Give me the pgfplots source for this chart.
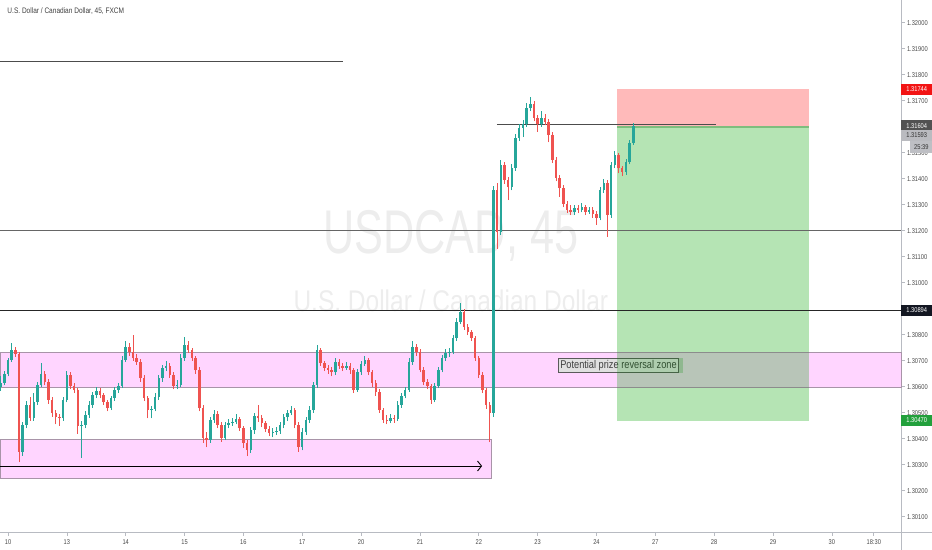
\documentclass[border=0pt]{standalone}
\usepackage{pgfplots}
\pgfplotsset{compat=1.18}
\usepackage{pgfplotstable}
\usepackage{fontspec}
\setmainfont{Liberation Sans}[FakeStretch=0.82]
\newfontfamily\wmfont{Liberation Sans}[FakeStretch=0.7]
\usetikzlibrary{arrows.meta}

\definecolor{upc}{HTML}{26A69A}
\definecolor{dnc}{HTML}{EF5350}
\definecolor{axisg}{HTML}{B8BBC2}
\definecolor{lblc}{HTML}{4A4A4A}
\definecolor{wmc}{HTML}{EDEDED}
\definecolor{pinkz}{RGB}{255,213,255}
\definecolor{pinkb}{RGB}{168,148,168}
\definecolor{greenz}{RGB}{181,228,180}
\definecolor{overz}{RGB}{184,197,184}
\definecolor{redz}{RGB}{255,186,186}
\definecolor{boxf}{RGB}{224,224,224}
\definecolor{boxb}{RGB}{90,90,90}

% 45 min candles, i = candle index (16 per trading day)
\pgfplotstableread{
i o h l c
0 1.30600 1.30640 1.30585 1.30614
1 1.30614 1.30660 1.30605 1.30649
2 1.30649 1.30712 1.30640 1.30703
3 1.30703 1.30768 1.30695 1.30741
4 1.30741 1.30752 1.30715 1.30726
5 1.30726 1.30735 1.30310 1.30349
6 1.30349 1.30465 1.30335 1.30453
7 1.30453 1.30545 1.30440 1.30530
8 1.30530 1.30560 1.30470 1.30479
9 1.30479 1.30575 1.30470 1.30541
10 1.30541 1.30620 1.30530 1.30607
11 1.30607 1.30690 1.30600 1.30649
12 1.30649 1.30660 1.30605 1.30618
13 1.30618 1.30628 1.30535 1.30549
14 1.30549 1.30560 1.30485 1.30498
15 1.30498 1.30510 1.30455 1.30483
16 1.30483 1.30495 1.30450 1.30479
17 1.30479 1.30560 1.30470 1.30549
18 1.30549 1.30660 1.30540 1.30645
19 1.30645 1.30655 1.30590 1.30603
20 1.30603 1.30615 1.30575 1.30587
21 1.30587 1.30595 1.30420 1.30449
22 1.30449 1.30470 1.30326 1.30453
23 1.30453 1.30505 1.30440 1.30491
24 1.30491 1.30545 1.30480 1.30530
25 1.30530 1.30580 1.30520 1.30568
26 1.30568 1.30600 1.30555 1.30583
27 1.30583 1.30595 1.30555 1.30568
28 1.30568 1.30575 1.30530 1.30541
29 1.30541 1.30550 1.30505 1.30518
30 1.30518 1.30565 1.30510 1.30556
31 1.30556 1.30600 1.30545 1.30587
32 1.30587 1.30615 1.30575 1.30603
33 1.30603 1.30720 1.30595 1.30703
34 1.30703 1.30775 1.30695 1.30753
35 1.30753 1.30770 1.30720 1.30733
36 1.30733 1.30798 1.30700 1.30710
37 1.30710 1.30725 1.30685 1.30695
38 1.30695 1.30705 1.30620 1.30633
39 1.30633 1.30645 1.30545 1.30556
40 1.30556 1.30565 1.30478 1.30510
41 1.30510 1.30525 1.30478 1.30515
42 1.30515 1.30575 1.30505 1.30560
43 1.30560 1.30645 1.30550 1.30633
44 1.30633 1.30685 1.30620 1.30672
45 1.30672 1.30700 1.30660 1.30680
46 1.30680 1.30690 1.30635 1.30645
47 1.30645 1.30655 1.30590 1.30603
48 1.30603 1.30625 1.30590 1.30607
49 1.30607 1.30725 1.30600 1.30710
50 1.30710 1.30790 1.30700 1.30761
51 1.30761 1.30775 1.30730 1.30741
52 1.30741 1.30750 1.30700 1.30710
53 1.30710 1.30720 1.30650 1.30664
54 1.30664 1.30675 1.30505 1.30518
55 1.30518 1.30530 1.30385 1.30402
56 1.30402 1.30425 1.30368 1.30395
57 1.30395 1.30485 1.30385 1.30472
58 1.30472 1.30510 1.30460 1.30495
59 1.30495 1.30505 1.30440 1.30453
60 1.30453 1.30465 1.30388 1.30402
61 1.30402 1.30465 1.30395 1.30453
62 1.30453 1.30475 1.30440 1.30460
63 1.30460 1.30480 1.30450 1.30464
64 1.30464 1.30495 1.30455 1.30475
65 1.30475 1.30485 1.30430 1.30441
66 1.30441 1.30450 1.30365 1.30383
67 1.30383 1.30395 1.30333 1.30357
68 1.30357 1.30445 1.30345 1.30433
69 1.30433 1.30500 1.30420 1.30487
70 1.30487 1.30530 1.30465 1.30479
71 1.30479 1.30490 1.30445 1.30460
72 1.30460 1.30470 1.30425 1.30437
73 1.30437 1.30450 1.30410 1.30421
74 1.30421 1.30440 1.30405 1.30426
75 1.30426 1.30445 1.30415 1.30429
76 1.30429 1.30465 1.30420 1.30453
77 1.30453 1.30495 1.30440 1.30483
78 1.30483 1.30512 1.30470 1.30498
79 1.30498 1.30525 1.30490 1.30510
80 1.30510 1.30520 1.30440 1.30453
81 1.30453 1.30465 1.30349 1.30368
82 1.30368 1.30440 1.30355 1.30425
83 1.30425 1.30485 1.30415 1.30472
84 1.30472 1.30525 1.30460 1.30510
85 1.30510 1.30620 1.30500 1.30607
86 1.30607 1.30761 1.30595 1.30741
87 1.30741 1.30750 1.30680 1.30691
88 1.30691 1.30700 1.30660 1.30672
89 1.30672 1.30685 1.30650 1.30664
90 1.30664 1.30675 1.30640 1.30656
91 1.30656 1.30710 1.30645 1.30695
92 1.30695 1.30705 1.30670 1.30680
93 1.30680 1.30690 1.30660 1.30672
94 1.30672 1.30695 1.30665 1.30680
95 1.30680 1.30690 1.30650 1.30664
96 1.30664 1.30672 1.30575 1.30587
97 1.30587 1.30670 1.30580 1.30656
98 1.30656 1.30700 1.30645 1.30688
99 1.30688 1.30720 1.30680 1.30703
100 1.30703 1.30712 1.30645 1.30656
101 1.30656 1.30665 1.30600 1.30614
102 1.30614 1.30625 1.30565 1.30579
103 1.30579 1.30590 1.30500 1.30510
104 1.30510 1.30520 1.30460 1.30472
105 1.30472 1.30490 1.30455 1.30468
106 1.30468 1.30495 1.30460 1.30479
107 1.30479 1.30490 1.30462 1.30475
108 1.30475 1.30545 1.30468 1.30530
109 1.30530 1.30575 1.30520 1.30564
110 1.30564 1.30600 1.30555 1.30587
111 1.30587 1.30712 1.30580 1.30695
112 1.30695 1.30775 1.30685 1.30753
113 1.30753 1.30765 1.30720 1.30733
114 1.30733 1.30745 1.30655 1.30664
115 1.30664 1.30675 1.30605 1.30618
116 1.30618 1.30630 1.30590 1.30603
117 1.30603 1.30612 1.30535 1.30549
118 1.30549 1.30615 1.30540 1.30603
119 1.30603 1.30675 1.30595 1.30664
120 1.30664 1.30722 1.30655 1.30710
121 1.30710 1.30745 1.30700 1.30729
122 1.30729 1.30750 1.30715 1.30733
123 1.30733 1.30800 1.30725 1.30787
124 1.30787 1.30865 1.30775 1.30849
125 1.30849 1.30922 1.30840 1.30887
126 1.30887 1.30900 1.30820 1.30830
127 1.30830 1.30842 1.30798 1.30810
128 1.30810 1.30820 1.30775 1.30787
129 1.30787 1.30795 1.30700 1.30710
130 1.30710 1.30720 1.30635 1.30645
131 1.30645 1.30655 1.30575 1.30587
132 1.30587 1.30595 1.30515 1.30530
133 1.30530 1.30540 1.30387 1.30498
134 1.30498 1.31372 1.30485 1.31357
135 1.31357 1.31385 1.31130 1.31195
136 1.31195 1.31470 1.31185 1.31453
137 1.31453 1.31465 1.31380 1.31395
138 1.31395 1.31405 1.31318 1.31368
139 1.31368 1.31455 1.31355 1.31441
140 1.31441 1.31570 1.31430 1.31556
141 1.31556 1.31610 1.31545 1.31595
142 1.31595 1.31625 1.31560 1.31611
143 1.31611 1.31690 1.31600 1.31672
144 1.31672 1.31715 1.31660 1.31688
145 1.31688 1.31700 1.31620 1.31633
146 1.31633 1.31645 1.31580 1.31611
147 1.31611 1.31660 1.31600 1.31633
148 1.31633 1.31650 1.31605 1.31618
149 1.31618 1.31630 1.31540 1.31568
150 1.31568 1.31580 1.31460 1.31472
151 1.31472 1.31485 1.31390 1.31403
152 1.31403 1.31415 1.31330 1.31364
153 1.31364 1.31375 1.31290 1.31303
154 1.31303 1.31315 1.31268 1.31280
155 1.31280 1.31300 1.31260 1.31272
156 1.31272 1.31300 1.31262 1.31287
157 1.31287 1.31298 1.31268 1.31280
158 1.31280 1.31305 1.31270 1.31291
159 1.31291 1.31300 1.31260 1.31272
160 1.31272 1.31292 1.31265 1.31280
161 1.31280 1.31290 1.31250 1.31265
162 1.31265 1.31275 1.31222 1.31249
163 1.31249 1.31370 1.31240 1.31357
164 1.31357 1.31400 1.31345 1.31383
165 1.31383 1.31395 1.31176 1.31261
166 1.31261 1.31465 1.31250 1.31453
167 1.31453 1.31505 1.31440 1.31492
168 1.31492 1.31500 1.31420 1.31441
169 1.31441 1.31450 1.31410 1.31426
170 1.31426 1.31475 1.31415 1.31464
171 1.31464 1.31550 1.31455 1.31537
172 1.31537 1.31615 1.31530 1.31604
}\candles

\begin{document}
\begin{tikzpicture}
% y axis runs in (price - 1.3) * 1000, labelled with the prices
\begin{axis}[
    set layers,
    scale only axis,
    width=901bp, height=532bp,
    xmin=-0.18, xmax=244.8,
    ymin=0.412, ymax=20.873,
    axis x line*=bottom, axis y line*=right,
    axis line style={draw=axisg, line width=0.9bp},
    clip=false,
    xtick={2,18,34,50,66,82,98,114,130,146,162,178,194,210,226,237.4},
    xticklabels={10,13,14,15,16,17,20,21,22,23,24,27,28,29,30,18:30},
    ytick={1,2,...,20},
    yticklabels={1.30100,1.30200,1.30300,1.30400,1.30500,1.30600,1.30700,1.30800,1.30900,1.31000,1.31100,1.31200,1.31300,1.31400,1.31500,1.31600,1.31700,1.31800,1.31900,1.32000},
    tick align=outside, major tick length=3.5bp,
    tick style={draw=axisg, line width=0.7bp},
    ticklabel style={font=\fontsize{7}{8}\selectfont, text=lblc},
    y tick label style={xshift=-1bp},
    x tick label style={yshift=-1bp},
    candle/.style 2 args={draw=none, mark=none, forget plot,
        error bars/.cd, y dir=plus, y explicit, error mark=none,
        error bar style={draw=#1, line width=#2}},
]

% watermark
\node[text=wmc, font=\wmfont\fontsize{62}{62}\selectfont] at (axis cs:122.4,11.80) {USDCAD, 45};
\node[text=wmc, font=\fontsize{30}{30}\selectfont] at (axis cs:122.4,9.30) {U.S. Dollar / Canadian Dollar};

% zones
\draw[fill=pinkz, draw=pinkb, line width=0.8bp] (axis cs:-0.18,5.96) rectangle (axis cs:244.8,7.32);
\draw[fill=pinkz, draw=pinkb, line width=0.8bp] (axis cs:-0.18,2.48) rectangle (axis cs:133.3,3.98);

% position tool
\fill[greenz] (axis cs:167.6,4.70) rectangle (axis cs:219.9,16.04);
\fill[overz] (axis cs:167.6,5.96) rectangle (axis cs:219.9,7.32);
\draw[draw=black!45, line width=0.8bp] (axis cs:167.6,5.96) -- (axis cs:219.9,5.96);
\draw[draw=black!45, line width=0.8bp] (axis cs:167.6,7.32) -- (axis cs:219.9,7.32);
\fill[redz] (axis cs:167.6,16.04) rectangle (axis cs:219.9,17.44);
\fill[green!40!black, opacity=0.3] (axis cs:167.6,15.96) rectangle (axis cs:219.9,16.04);

% horizontal levels
\draw[black!60, line width=0.9bp] (axis cs:-0.18,12.00) -- (axis cs:244.8,12.00);
\draw[black!85, line width=0.9bp] (axis cs:-0.18,8.94) -- (axis cs:244.8,8.94);
\draw[black!70, line width=0.9bp] (axis cs:-0.18,18.52) -- (axis cs:93.1,18.52);
\draw[black!70, line width=0.9bp] (axis cs:134.9,16.10) -- (axis cs:194.5,16.10);

% arrow
\draw[-{Straight Barb[length=4bp,width=10bp]}, line width=0.9bp] (axis cs:-0.18,2.95) -- (axis cs:130.9,2.95);

% candle wicks
\addplot[restrict expr to domain={\thisrow{c}-\thisrow{o}}{0:1}, candle={upc}{0.8bp}]
    table[x=i, y expr={(\thisrow{l}-1.3)*1000}, y error plus expr={(\thisrow{h}-\thisrow{l})*1000}] {\candles};
\addplot[restrict expr to domain={\thisrow{c}-\thisrow{o}}{-1:-0.0000001}, candle={dnc}{0.8bp}]
    table[x=i, y expr={(\thisrow{l}-1.3)*1000}, y error plus expr={(\thisrow{h}-\thisrow{l})*1000}] {\candles};
% candle bodies
\addplot[restrict expr to domain={\thisrow{c}-\thisrow{o}}{0:1}, candle={upc}{2.5bp}]
    table[x=i, y expr={(\thisrow{o}-1.3)*1000}, y error plus expr={(\thisrow{c}-\thisrow{o})*1000}] {\candles};
\addplot[restrict expr to domain={\thisrow{c}-\thisrow{o}}{-1:-0.0000001}, candle={dnc}{2.5bp}]
    table[x=i, y expr={(\thisrow{c}-1.3)*1000}, y error plus expr={(\thisrow{o}-\thisrow{c})*1000}] {\candles};

% label
\node[draw=boxb, fill=boxf, line width=0.8bp, inner xsep=2bp, inner ysep=1.5bp,
      anchor=west, text=black!75, font=\fontsize{11.3}{12}\selectfont]
      at (axis cs:151.5,6.82) {Potential prize reversal zone};
\fill[green!55!black, opacity=0.22] (axis cs:167.6,6.53) rectangle (axis cs:185.5,7.11);

% title
\node[anchor=west, text=black!75, font=\fontsize{8}{9}\selectfont] at (axis cs:0.9,20.45) {U.S. Dollar / Canadian Dollar, 45, FXCM};

% price scale labels
\begin{scope}[every node/.style={anchor=west, inner sep=0pt, minimum width=31bp,
      minimum height=11.5bp, font=\fontsize{7}{8}\selectfont}]
\node[fill={rgb,255:red,242;green,20;blue,20}, text=white] at (axis cs:244.8,17.44) {1.31744};
\node[fill=black!68, text=white] at (axis cs:244.8,16.04) {1.31604};
\node[fill={rgb,255:red,186;green,187;blue,192}, text=black!80] at (axis cs:244.8,15.66) {1.31593};
\node[fill={rgb,255:red,190;green,191;blue,196}, text=black!80, minimum width=22bp] at (axis cs:247.3,15.22) {25:39};
\node[fill={rgb,255:red,19;green,23;blue,34}, text=white] at (axis cs:244.8,8.94) {1.30894};
\node[fill={rgb,255:red,34;green,160;blue,60}, text=white] at (axis cs:244.8,4.70) {1.30470};
\end{scope}
\draw[axisg, line width=0.9bp] (axis cs:244.8,0.412) -- ([yshift=-18bp]axis cs:244.8,0.412);
\draw[axisg, line width=0.9bp] (axis cs:244.8,0.412) -- ([xshift=31bp]axis cs:244.8,0.412);
\end{axis}
\pgfresetboundingbox
\useasboundingbox (0,-18bp) rectangle (932bp,532bp);
\end{tikzpicture}
\end{document}
